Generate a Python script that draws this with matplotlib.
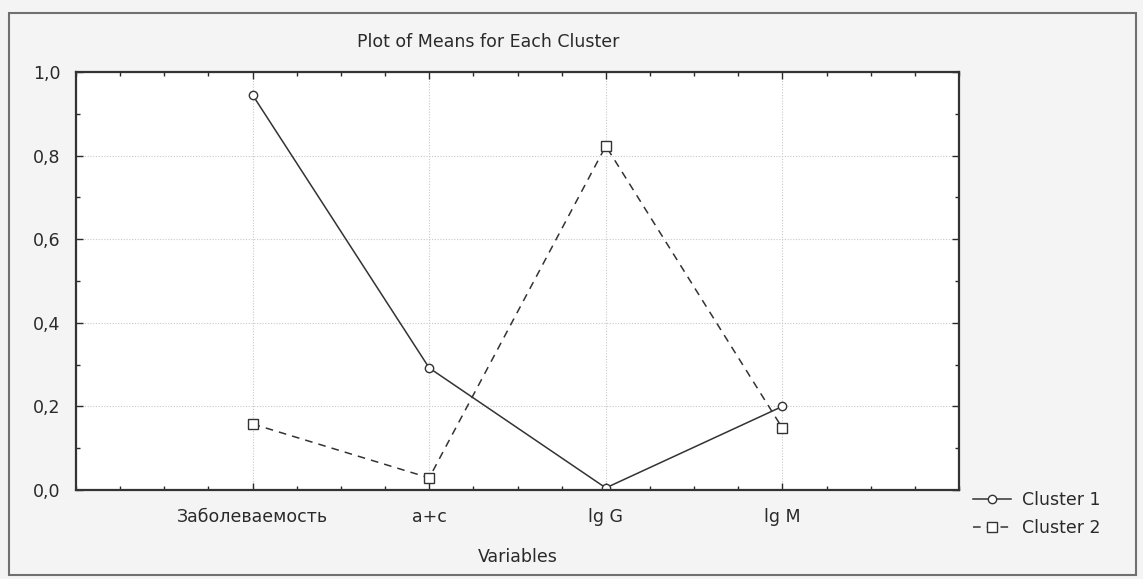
import matplotlib
matplotlib.use('Agg')
import matplotlib.pyplot as plt
from matplotlib.patches import Rectangle
from matplotlib.ticker import MultipleLocator, FuncFormatter

# Data
variables = ['Заболеваемость', 'a+c', 'lg G', 'lg M']
cluster1 = [0.945, 0.292, 0.005, 0.200]
cluster2 = [0.158, 0.029, 0.823, 0.148]

plt.rcParams['font.family'] = ['DejaVu Sans']

W, H = 1143, 579
fig = plt.figure(figsize=(W / 100, H / 100), dpi=100, facecolor='#f4f4f4')
ax = fig.add_axes([76 / W, 1 - 490 / H, 883 / W, 418 / H])
ax.set_facecolor('white')

# outer frame around the whole chart
fig.patches.append(Rectangle((9 / W, 4 / H), 1127 / W, 562 / H,
                             transform=fig.transFigure, fill=False,
                             edgecolor='#707070', linewidth=1.5))

x = list(range(1, len(variables) + 1))
ax.plot(x, cluster1, color='#333333', linewidth=1.1, marker='o', markersize=6,
        markerfacecolor='white', markeredgecolor='#333333', label='Cluster 1')
ax.plot(x, cluster2, color='#333333', linewidth=1.1, linestyle=(0, (5, 4)),
        marker='s', markersize=7, markerfacecolor='white',
        markeredgecolor='#333333', label='Cluster 2')

ax.set_xlim(0, 5)
ax.set_ylim(0, 1.0)
ax.set_xticks(x)
ax.set_xticklabels(variables)
ax.xaxis.set_minor_locator(MultipleLocator(0.25))
ax.yaxis.set_major_locator(MultipleLocator(0.2))
ax.yaxis.set_minor_locator(MultipleLocator(0.1))
ax.yaxis.set_major_formatter(FuncFormatter(lambda v, p: f'{v:.1f}'.replace('.', ',')))

ax.tick_params(which='both', direction='in', top=True, right=True,
               labelsize=12.5, colors='#2a2a2a')
ax.tick_params(which='major', length=5, width=1)
ax.tick_params(which='minor', length=3, width=1)
ax.tick_params(axis='x', pad=13)
ax.tick_params(axis='y', pad=11)

ax.grid(True, which='major', color='#c8c8c8', linestyle=(0, (1, 1.5)), linewidth=0.8)
for s in ax.spines.values():
    s.set_linewidth(1.6)
    s.set_color('#333333')

ax.set_xlabel('Variables', fontsize=12.5, color='#2a2a2a', labelpad=16)
fig.text(488 / W, 1 - 42 / H, 'Plot of Means for Each Cluster',
         ha='center', va='center', fontsize=12.5, color='#2a2a2a')

leg = fig.legend(loc='upper left', bbox_to_anchor=(973 / W, 1 - 491 / H),
                 frameon=False, fontsize=12.5, handlelength=2.2,
                 handletextpad=0.6, labelspacing=0.6, borderpad=0,
                 borderaxespad=0)
for t in leg.get_texts():
    t.set_color('#2a2a2a')

fig.savefig('out.png', dpi=100, facecolor=fig.get_facecolor())
